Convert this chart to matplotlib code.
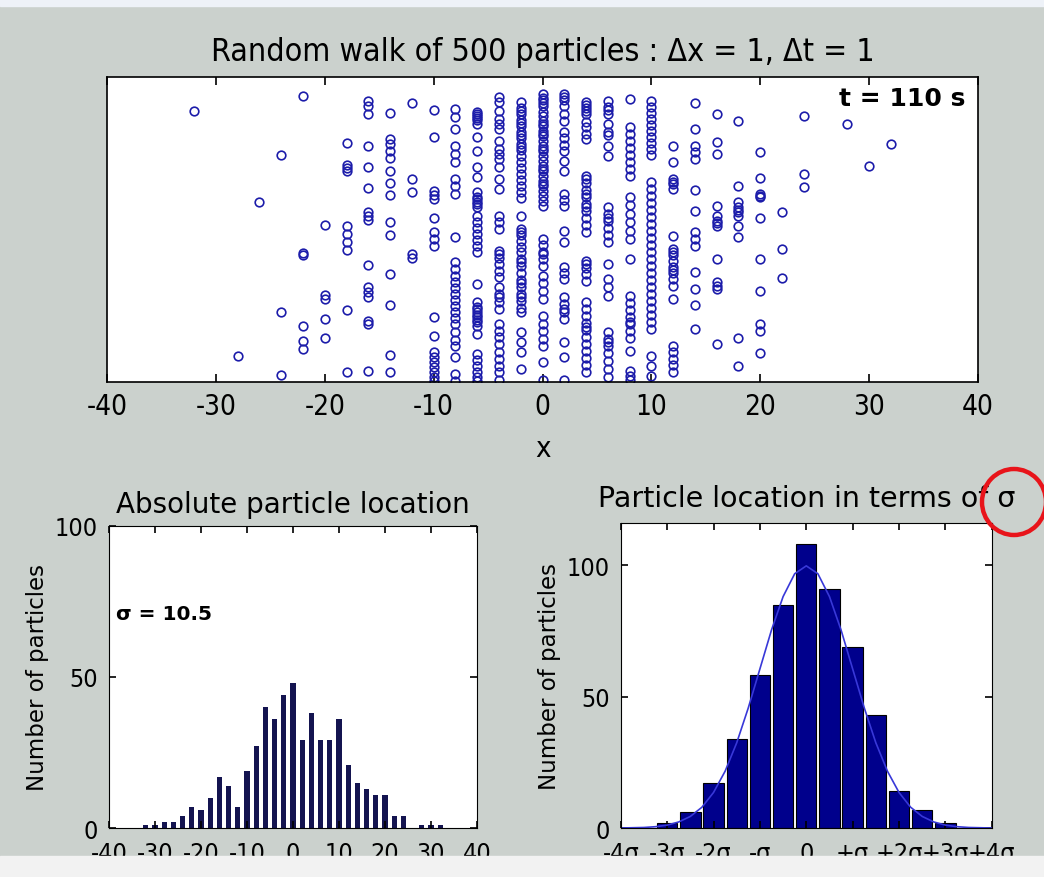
import os
import matplotlib
matplotlib.use('Agg')
import matplotlib.pyplot as plt
from matplotlib import font_manager as fm
from matplotlib.patches import Ellipse, Rectangle

# ---- data ----
# top panel: particle positions (x) and their height in the strip (arbitrary units, 0..305)
walk_x = [-32, -28, -26, -24, -22, -20, -18, -16, -14, -12, -10, -8, -6, -4, -2,
          0, 2, 4, 6, 8, 10, 12, 14, 16, 18, 20, 22, 24, 28, 30, 32]
walk_y = [
    [271],
    [26],
    [180],
    [227, 70, 7],
    [286, 129, 127, 56, 41, 33],
    [157, 87, 83, 63, 44],
    [239, 217, 214, 211, 156, 148, 140, 132, 72, 10],
    [281, 276, 268, 236, 215, 194, 170, 166, 162, 117, 95, 90, 85, 61, 58, 11],
    [269, 243, 238, 231, 224, 211, 199, 187, 160, 147, 108, 77, 27, 10],
    [279, 203, 190, 128, 124],
    [272, 245, 191, 187, 183, 164, 150, 143, 136, 65, 46, 30, 25, 20, 15, 10, 5, 1],
    [273, 265, 253, 236, 228, 220, 203, 196, 188, 145, 120, 113, 106, 100, 94, 88,
     82, 76, 70, 64, 58, 50, 42, 36, 25, 8, 1],
    [270, 268, 266, 264, 262, 258, 245, 231, 215, 205, 190, 185, 183, 180, 178, 175,
     166, 160, 154, 148, 142, 136, 130, 98, 80, 75, 73, 70, 67, 65, 62, 60, 56, 48,
     28, 22, 16, 10, 5, 1],
    [285, 280, 271, 263, 258, 253, 241, 233, 228, 223, 215, 203, 193, 166, 160, 153,
     131, 128, 124, 118, 111, 105, 95, 88, 85, 80, 73, 58, 51, 45, 38, 30, 23, 16, 10, 2],
    [280, 274, 271, 268, 262, 259, 256, 250, 247, 244, 238, 235, 232, 226, 220, 214,
     208, 202, 196, 190, 184, 166, 153, 150, 147, 141, 135, 130, 123, 120, 116, 109,
     102, 99, 95, 88, 85, 81, 74, 70, 50, 40, 30, 13],
    [288, 284, 282, 279, 276, 270, 266, 261, 258, 256, 251, 248, 246, 241, 236, 233,
     231, 226, 221, 216, 213, 211, 206, 201, 198, 196, 191, 186, 181, 176, 143, 137,
     130, 128, 123, 116, 106, 99, 91, 83, 66, 58, 51, 43, 36, 20, 2],
    [288, 285, 282, 276, 268, 261, 250, 244, 237, 231, 221, 211, 188, 182, 176, 151,
     140, 115, 109, 103, 85, 78, 73, 70, 63, 40, 25, 2],
    [280, 277, 274, 271, 268, 260, 255, 248, 243, 206, 203, 199, 192, 188, 185, 178,
     175, 171, 164, 157, 150, 121, 118, 114, 108, 101, 80, 73, 66, 59, 55, 52, 45,
     38, 31, 24, 17, 10],
    [281, 275, 272, 268, 258, 250, 247, 236, 226, 175, 168, 164, 161, 154, 147, 140,
     118, 103, 95, 86, 50, 43, 40, 36, 29, 21, 13, 5],
    [283, 255, 248, 241, 234, 227, 220, 213, 206, 185, 177, 168, 160, 151, 143, 123,
     86, 79, 72, 65, 60, 58, 51, 44, 31, 11, 6, 2],
    [281, 275, 269, 263, 257, 251, 245, 239, 233, 227, 200, 193, 186, 179, 172, 165,
     158, 151, 144, 137, 130, 123, 116, 109, 102, 95, 88, 81, 74, 67, 60, 53, 26, 16, 6],
    [236, 220, 203, 200, 198, 193, 146, 133, 130, 127, 121, 115, 112, 109, 103, 96,
     83, 36, 30, 23, 17, 10],
    [279, 253, 236, 230, 223, 192, 171, 150, 143, 136, 110, 93, 77, 53],
    [268, 240, 228, 176, 166, 161, 159, 156, 123, 100, 96, 93, 38],
    [261, 196, 180, 175, 172, 170, 166, 156, 145, 44, 16],
    [230, 204, 188, 186, 185, 164, 123, 91, 58, 51, 29],
    [170, 133, 104],
    [266, 208, 195],
    [258],
    [216],
    [238],
]

# bottom left: histogram of absolute location
abs_x = [-32, -30, -28, -26, -24, -22, -20, -18, -16, -14, -12, -10, -8, -6, -4, -2,
         0, 2, 4, 6, 8, 10, 12, 14, 16, 18, 20, 22, 24, 26, 28, 30, 32]
abs_counts = [1, 1, 2, 2, 4, 7, 6, 10, 17, 14, 7, 19, 27, 40, 36, 44,
              48, 29, 38, 29, 29, 36, 21, 15, 13, 11, 11, 4, 4, 0, 1, 1, 1]

# bottom right: histogram in units of sigma, plus normal curve
sig_x = [-4, -3.5, -3, -2.5, -2, -1.5, -1, -0.5, 0, 0.5, 1, 1.5, 2, 2.5, 3, 3.5, 4]
sig_counts = [0, 0, 2, 6, 17, 34, 58, 85, 108, 91, 69, 43, 14, 7, 2, 0, 0]
curve_x = [-4, -3.75, -3.5, -3.25, -3, -2.75, -2.5, -2.25, -2, -1.75, -1.5, -1.25, -1,
           -0.75, -0.5, -0.25, 0, 0.25, 0.5, 0.75, 1, 1.25, 1.5, 1.75, 2, 2.25, 2.5,
           2.75, 3, 3.25, 3.5, 3.75, 4]
curve_y = [0.0, 0.1, 0.2, 0.5, 1.1, 2.3, 4.4, 7.9, 13.5, 21.6, 32.4, 45.7, 60.5,
           75.3, 88.0, 96.7, 99.7, 96.7, 88.0, 75.3, 60.5, 45.7, 32.4, 21.6, 13.5,
           7.9, 4.4, 2.3, 1.1, 0.5, 0.2, 0.1, 0.0]
sig_ticks = [-4, -3, -2, -1, 0, 1, 2, 3, 4]
sig_labels = ['-4σ', '-3σ', '-2σ', '-σ', '0', '+σ', '+2σ', '+3σ', '+4σ']

# look for a narrow face (condensed DejaVu / Liberation Narrow) if the system has one
fonts = {os.path.basename(f.fname): f.fname for f in fm.fontManager.ttflist}
narrow_path = fonts.get('LiberationSansNarrow-Regular.ttf') or fonts.get('DejaVuSansCondensed.ttf')


def narrow(size):
    if narrow_path:
        return fm.FontProperties(fname=narrow_path, size=size)
    return fm.FontProperties(family='Liberation Sans', size=size * 0.85)


plt.rcParams['xtick.direction'] = 'in'
plt.rcParams['ytick.direction'] = 'in'
plt.rcParams['axes.unicode_minus'] = False

bg = '#cbd1cd'

fig = plt.figure(figsize=(10.44, 8.78), dpi=100)
fig.patch.set_facecolor(bg)

# ---- top: random walk scatter ----
ax = fig.add_axes([0.1025, 0.5638, 0.8343, 0.3474])
for xv, ys in zip(walk_x, walk_y):
    ax.plot([xv] * len(ys), ys, 'o', mfc='none', mec='#1c1caa', ms=6.2, mew=1.2)
ax.set_xlim(-40, 40)
ax.set_ylim(0, 305)
ax.set_yticks([])
ax.set_xticks(range(-40, 41, 10))
ax.tick_params(axis='x', top=True, length=6, width=1.2, pad=7)
for lab in ax.get_xticklabels():
    lab.set_fontproperties(narrow(20))
ax.set_xlabel('x', fontproperties=narrow(21), labelpad=10)
ax.set_title('Random walk of 500 particles : Δx = 1, Δt = 1',
             fontproperties=narrow(23), pad=12)
ax.text(0.985, 0.93, 't = 110 s', transform=ax.transAxes, ha='right', va='center',
        fontsize=18, fontweight='bold', family='DejaVu Sans')
for s in ax.spines.values():
    s.set_linewidth(1.2)

# ---- bottom left: absolute location ----
ax1 = fig.add_axes([0.1044, 0.0558, 0.3525, 0.344])
ax1.bar(abs_x, abs_counts, width=1.1, color='#141450', edgecolor='none')
ax1.set_xlim(-40, 40)
ax1.set_ylim(0, 100)
ax1.set_xticks(range(-40, 41, 10))
ax1.set_yticks([0, 50, 100])
ax1.tick_params(top=True, right=True, length=5, width=1.2)
ax1.tick_params(axis='y', pad=8)
ax1.tick_params(axis='x', pad=9)
for lab in ax1.get_xticklabels() + ax1.get_yticklabels():
    lab.set_fontproperties(narrow(18))
ax1.set_ylabel('Number of particles', fontsize=16.5, family='DejaVu Sans', labelpad=4)
ax1.set_title('Absolute particle location', fontsize=20, family='DejaVu Sans', pad=10)
ax1.text(0.02, 0.71, 'σ = 10.5', transform=ax1.transAxes, ha='left', va='center',
         fontsize=14.5, fontweight='bold', family='DejaVu Sans')

# ---- bottom right: location in units of sigma ----
ax2 = fig.add_axes([0.5946, 0.0558, 0.3554, 0.3474])
ax2.bar(sig_x, sig_counts, width=0.44, color='#00008c', edgecolor='black', lw=0.8)
ax2.plot(curve_x, curve_y, color='#3838d8', lw=1.2)
ax2.set_xlim(-4, 4)
ax2.set_ylim(0, 116)
ax2.set_xticks(sig_ticks)
ax2.set_xticklabels(sig_labels)
ax2.set_yticks([0, 50, 100])
ax2.tick_params(top=True, right=True, length=5, width=1.2)
ax2.tick_params(axis='y', pad=8)
ax2.tick_params(axis='x', pad=9)
for lab in ax2.get_xticklabels() + ax2.get_yticklabels():
    lab.set_fontproperties(narrow(18))
ax2.set_ylabel('Number of particles', fontsize=16.5, family='DejaVu Sans', labelpad=4)
ax2.set_title('Particle location in terms of σ', fontsize=20.5, family='DejaVu Sans',
              pad=12)

# screen capture edges: light strip at bottom and top
fig.add_artist(Rectangle((0, 0), 1, 0.024, transform=fig.transFigure,
                         color='#f2f2f2', zorder=10))
fig.add_artist(Rectangle((0, 0.992), 1, 0.008, transform=fig.transFigure,
                         color='#eef2f8', zorder=10))

# red highlight circle around the sigma
fig.add_artist(Ellipse((1014 / 1044, 1 - 503 / 878), 64 / 1044, 66 / 878,
                       transform=fig.transFigure, fill=False, ec='#e8141a', lw=3.2,
                       zorder=11))

fig.savefig('out.png', dpi=100, facecolor=fig.get_facecolor())
